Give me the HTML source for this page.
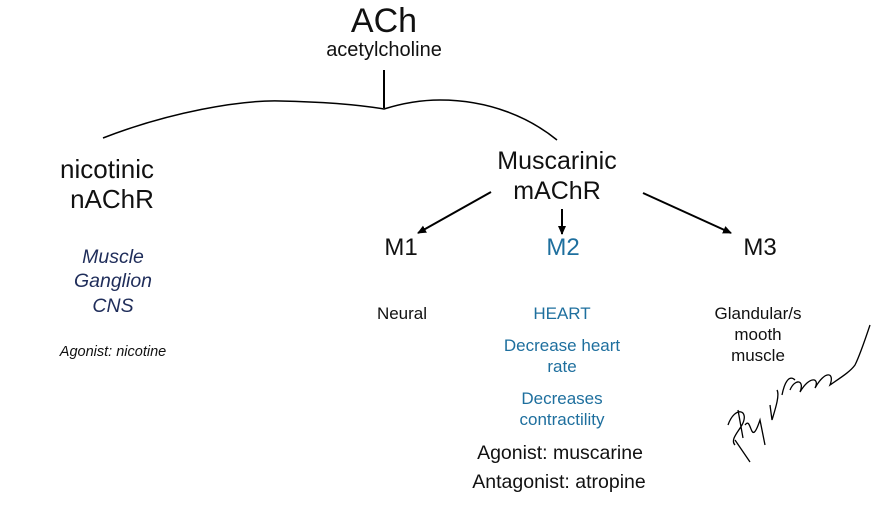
<!DOCTYPE html>
<html><head><meta charset="utf-8"><style>
body{margin:0;width:890px;height:530px;background:#fff;position:relative;overflow:hidden;font-family:"Liberation Sans",sans-serif;color:#111}
.t{position:absolute;transform:translateX(-50%);white-space:nowrap;text-align:center;line-height:1}
.b{color:#1e6f9e}
.n{color:#1f2d5a;font-style:italic}
</style></head><body>
<svg width="890" height="530" style="position:absolute;left:0;top:0">
<defs><marker id="a" markerWidth="10" markerHeight="10" refX="8" refY="5" orient="auto" markerUnits="userSpaceOnUse"><path d="M0,1 L9,5 L0,9 Z" fill="#000"/></marker></defs>
<path d="M103,138 C170,112 240,100 280,101 C330,102 360,105 384,109 C400,104 420,100 440,100 C490,100 530,118 557,140" fill="none" stroke="#000" stroke-width="1.5"/>
<line x1="384" y1="70" x2="384" y2="108" stroke="#000" stroke-width="2"/>
<line x1="491" y1="192" x2="418" y2="233" stroke="#000" stroke-width="2" marker-end="url(#a)"/>
<line x1="562" y1="209" x2="562" y2="234" stroke="#000" stroke-width="2" marker-end="url(#a)"/>
<line x1="643" y1="193" x2="731" y2="233" stroke="#000" stroke-width="2" marker-end="url(#a)"/>
<path d="M738,410 L743,438 M728,425 C735,405 750,410 742,425 C738,432 730,440 735,445 M745,425 C752,415 750,450 760,420 L765,445 M770,405 L772,420 C775,410 780,395 777,390 M782,395 C785,380 790,375 795,380 M790,390 C795,378 805,380 800,392 C810,375 820,378 815,388 C825,370 835,372 830,385 C840,378 850,372 855,365 C860,355 865,340 870,325 M735,440 L750,462" fill="none" stroke="#000" stroke-width="1.3"/>
</svg>
<div class="t" style="left:384px;top:4px;font-size:34px">ACh</div>
<div class="t" style="left:384px;top:40px;font-size:20px">acetylcholine</div>
<div class="t" style="left:107px;top:156px;font-size:26px">nicotinic</div>
<div class="t" style="left:112px;top:186px;font-size:26px">nAChR</div>
<div class="t n" style="left:113px;top:248px;font-size:19.5px">Muscle</div>
<div class="t n" style="left:113px;top:272px;font-size:19.5px">Ganglion</div>
<div class="t n" style="left:113px;top:297px;font-size:19.5px">CNS</div>
<div class="t" style="left:113px;top:345px;font-size:14.5px;font-style:italic">Agonist: nicotine</div>
<div class="t" style="left:557px;top:149px;font-size:25px">Muscarinic</div>
<div class="t" style="left:557px;top:179px;font-size:25px">mAChR</div>
<div class="t" style="left:401px;top:236px;font-size:24px">M1</div>
<div class="t b" style="left:563px;top:236px;font-size:24px">M2</div>
<div class="t" style="left:760px;top:236px;font-size:24px">M3</div>
<div class="t" style="left:402px;top:305px;font-size:17px">Neural</div>
<div class="t b" style="left:562px;top:305px;font-size:17px">HEART</div>
<div class="t b" style="left:562px;top:337px;font-size:17px">Decrease heart</div>
<div class="t b" style="left:562px;top:358px;font-size:17px">rate</div>
<div class="t b" style="left:562px;top:390px;font-size:17px">Decreases</div>
<div class="t b" style="left:562px;top:411px;font-size:17px">contractility</div>
<div class="t" style="left:560px;top:444px;font-size:19.5px">Agonist: muscarine</div>
<div class="t" style="left:559px;top:473px;font-size:19.5px">Antagonist: atropine</div>
<div class="t" style="left:758px;top:305px;font-size:17px">Glandular/s</div>
<div class="t" style="left:758px;top:326px;font-size:17px">mooth</div>
<div class="t" style="left:758px;top:347px;font-size:17px">muscle</div>
</body></html>
